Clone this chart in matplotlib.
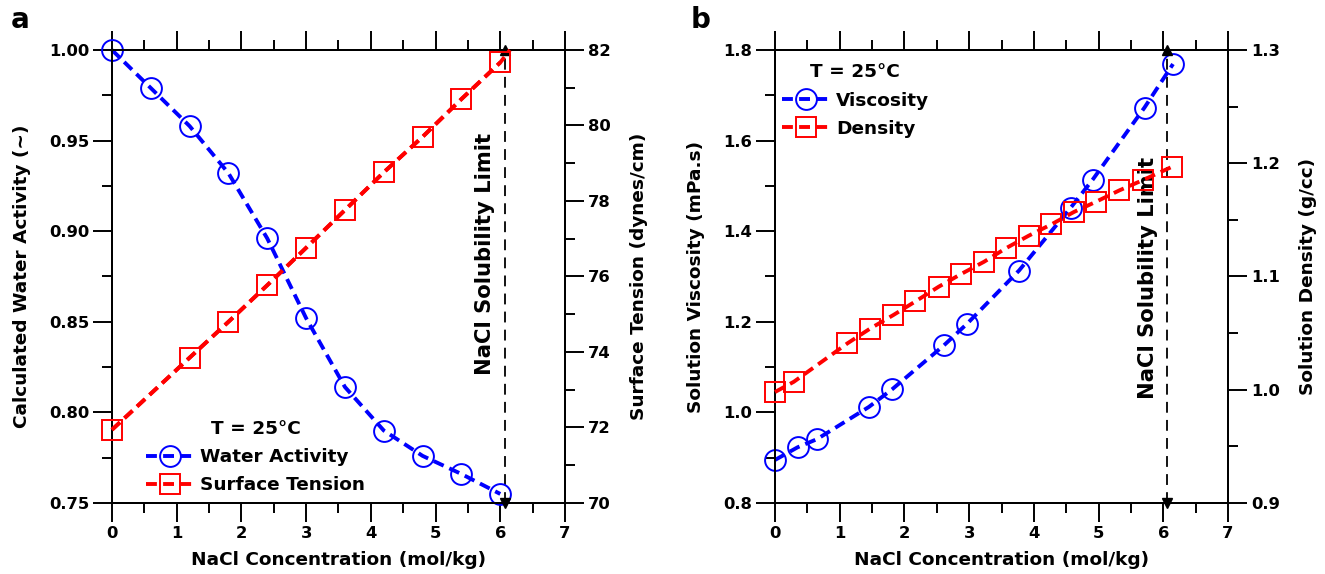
import matplotlib
matplotlib.use("Agg")
import matplotlib.pyplot as plt
from matplotlib.ticker import MultipleLocator, FormatStrFormatter

plt.rcParams["font.family"] = ["DejaVu Sans"]
plt.rcParams["font.weight"] = "bold"
plt.rcParams["axes.labelweight"] = "bold"

# Panel a: water activity and surface tension
wa_x = [0, 0.6, 1.2, 1.8, 2.4, 3.0, 3.6, 4.2, 4.8, 5.4, 6.0]
wa_y = [1.000, 0.979, 0.958, 0.932, 0.896, 0.852, 0.814, 0.790, 0.776, 0.766, 0.755]
st_x = [0, 1.2, 1.8, 2.4, 3.0, 3.6, 4.2, 4.8, 5.4, 6.0]
st_y = [71.94, 73.85, 74.80, 75.77, 76.76, 77.76, 78.76, 79.70, 80.70, 81.67]
st_fit_end = (6.15, 82.0)

# Panel b: viscosity and density
vis_x = [0, 0.35, 0.65, 1.45, 1.81, 2.61, 2.97, 3.77, 4.57, 4.91, 5.71, 6.15]
vis_y = [0.895, 0.923, 0.941, 1.012, 1.051, 1.148, 1.196, 1.313, 1.452, 1.514, 1.673, 1.769]
den_x = [0, 0.29, 1.12, 1.47, 1.83, 2.17, 2.53, 2.87, 3.23, 3.57, 3.92, 4.27,
         4.62, 4.96, 5.32, 5.68, 6.14]
den_y = [0.998, 1.007, 1.041, 1.054, 1.066, 1.078, 1.091, 1.102, 1.113, 1.125,
         1.136, 1.146, 1.157, 1.166, 1.176, 1.185, 1.197]

sol_limit_a = 6.08
sol_limit_b = 6.06

LFS = 13.3   # axis labels / legend
TFS = 11.8   # tick labels
LW = 2.8
DASH = (2.8, 1.6)
MS = 15

fig = plt.figure(figsize=(13.25, 5.74), dpi=100)


def style_axes(ax, ax2):
    for a in (ax, ax2):
        for s in a.spines.values():
            s.set_linewidth(1.4)
    ax.tick_params(which="both", direction="out", top=True, labelsize=TFS,
                   width=1.4, pad=3)
    ax2.tick_params(which="both", direction="out", labelsize=TFS, width=1.4, pad=3)
    for a in (ax, ax2):
        a.tick_params(which="major", length=13.5)
        a.tick_params(which="minor", length=7)
    ax.set_xlim(0, 7)
    ax.xaxis.set_major_locator(MultipleLocator(1))
    ax.xaxis.set_minor_locator(MultipleLocator(0.5))
    ax.set_xlabel("NaCl Concentration (mol/kg)", fontsize=LFS, labelpad=7)


def limit_line(ax, x, y0, y1, label_x, label_y):
    ax.plot([x, x], [y0, y1], color="black", lw=1.3, dashes=(6, 4), zorder=1)
    ax.plot([x], [y1], marker="^", color="black", ms=7, clip_on=False, zorder=5)
    ax.plot([x], [y0], marker="v", color="black", ms=7, clip_on=False, zorder=5)
    ax.text(label_x, label_y, "NaCl Solubility Limit", rotation=90, ha="center",
            va="center", fontsize=15.2, fontweight="bold")


def make_legend(ax, handles, **kw):
    leg = ax.legend(handles=handles, title="T = 25°C", frameon=False,
                    fontsize=LFS, handlelength=2.6, handletextpad=0.35,
                    labelspacing=0.55, borderaxespad=0.2, **kw)
    leg.get_title().set_fontweight("bold")
    leg.get_title().set_fontsize(LFS)
    return leg


# ---- panel a ----
ax = fig.add_axes([0.0845, 0.1237, 0.3419, 0.7892])
ax2 = ax.twinx()
ax.set_ylim(0.75, 1.0)
ax.yaxis.set_major_locator(MultipleLocator(0.05))
ax.yaxis.set_minor_locator(MultipleLocator(0.025))
ax.yaxis.set_major_formatter(FormatStrFormatter("%.2f"))
ax2.set_ylim(70, 82)
ax2.yaxis.set_major_locator(MultipleLocator(2))
ax2.yaxis.set_minor_locator(MultipleLocator(1))

h1, = ax.plot(wa_x, wa_y, color="blue", lw=LW, dashes=DASH, marker="o", ms=MS,
              mfc="none", mec="blue", mew=1.4, clip_on=False, zorder=3,
              label="Water Activity")
ax2.plot(st_x + [st_fit_end[0]], st_y + [st_fit_end[1]], color="red", lw=LW,
         dashes=DASH, clip_on=False, zorder=3)
h2, = ax2.plot(st_x, st_y, color="red", lw=LW, dashes=DASH, marker="s", ms=MS,
               mfc="none", mec="red", mew=1.4, clip_on=False, zorder=3,
               label="Surface Tension")
limit_line(ax, sol_limit_a, 0.75, 1.0, 5.77, 0.8874)
ax.set_ylabel("Calculated Water Activity (~)", fontsize=LFS, labelpad=13)
ax2.set_ylabel("Surface Tension (dynes/cm)", fontsize=LFS, labelpad=14)
style_axes(ax, ax2)
make_legend(ax, [h1, h2], loc="lower left", bbox_to_anchor=(0.05, -0.005))
fig.text(0.008, 0.966, "a", fontsize=20, fontweight="bold", va="center")

# ---- panel b ----
bx = fig.add_axes([0.5849, 0.1237, 0.3419, 0.7892])
bx2 = bx.twinx()
bx.set_ylim(0.8, 1.8)
bx.yaxis.set_major_locator(MultipleLocator(0.2))
bx.yaxis.set_minor_locator(MultipleLocator(0.1))
bx.yaxis.set_major_formatter(FormatStrFormatter("%.1f"))
bx2.set_ylim(0.9, 1.3)
bx2.yaxis.set_major_locator(MultipleLocator(0.1))
bx2.yaxis.set_minor_locator(MultipleLocator(0.05))
bx2.yaxis.set_major_formatter(FormatStrFormatter("%.1f"))

g1, = bx.plot(vis_x, vis_y, color="blue", lw=LW, dashes=DASH, marker="o", ms=MS,
              mfc="none", mec="blue", mew=1.4, clip_on=False, zorder=3,
              label="Viscosity")
g2, = bx2.plot(den_x, den_y, color="red", lw=LW, dashes=DASH, marker="s", ms=MS,
               mfc="none", mec="red", mew=1.4, clip_on=False, zorder=3,
               label="Density")
limit_line(bx, sol_limit_b, 0.8, 1.8, 5.77, 1.297)
bx.set_ylabel("Solution Viscosity (mPa.s)", fontsize=LFS, labelpad=13)
bx2.set_ylabel("Solution Density (g/cc)", fontsize=LFS, labelpad=14)
style_axes(bx, bx2)
make_legend(bx, [g1, g2], loc="upper left", bbox_to_anchor=(-0.01, 0.995))
fig.text(0.521, 0.966, "b", fontsize=20, fontweight="bold", va="center")

fig.savefig("out.png", dpi=100)
